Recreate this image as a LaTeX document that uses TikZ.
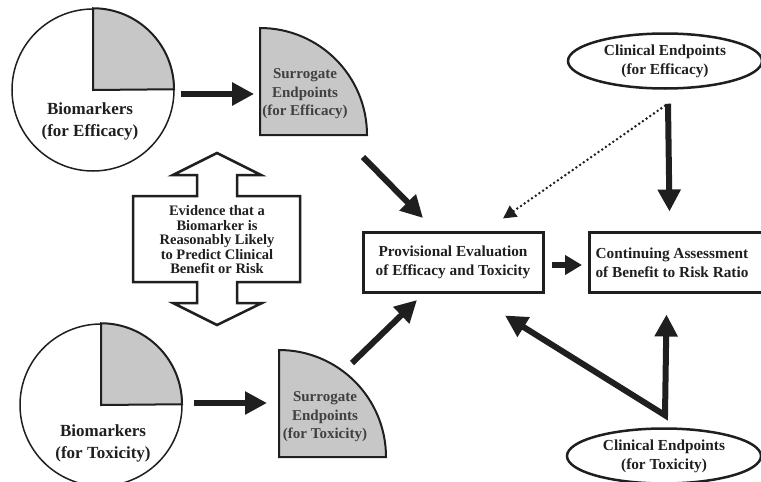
\documentclass[tikz,border=0pt]{standalone}
\usepackage{fontspec}
\setmainfont{Liberation Serif}
\usetikzlibrary{arrows.meta,shapes.geometric,calc}
\definecolor{qgray}{gray}{0.78}
\definecolor{ink}{gray}{0.12}
\begin{document}
\begin{tikzpicture}[x=1pt,y=-1pt,
  lbl/.style={font=\bfseries\fontsize{15.3}{19}\selectfont, align=center, inner sep=0pt, text=ink},
  biglbl/.style={font=\bfseries\fontsize{17}{22}\selectfont, align=center, inner sep=0pt, text=ink},
  evlbl/.style={font=\bfseries\fontsize{14.5}{14.5}\selectfont, align=center, inner sep=0pt, text=ink},
  surlbl/.style={font=\bfseries\fontsize{15}{18.5}\selectfont, align=center, inner sep=0pt, text=black!75},
  disc/.style={circle, draw=ink, line width=1.5pt, minimum size=162pt, inner sep=0pt},
  quad/.style={fill=qgray, draw=ink, line width=2pt, line join=miter},
  boxnode/.style={draw=ink, line width=3pt, minimum width=180pt, minimum height=60pt, inner sep=0pt},
  oval/.style={ellipse, draw=ink, line width=2.5pt, minimum width=194pt, minimum height=55pt, inner sep=0pt},
  fat/.style={draw=ink, line width=6pt, -{Triangle[length=22pt,width=22pt]}},
  dotarrow/.style={draw=ink, line width=2.8pt, line cap=round, dash pattern=on 0pt off 4.5pt, -{Triangle[length=13pt,width=13pt]}}
]
\useasboundingbox (0,0) rectangle (761,482);

% Biomarkers (efficacy)
\node[disc] (bioE) at (93,90) {};
\filldraw[quad] (bioE.center) -- (bioE.north) arc[start angle=-90,end angle=0,radius=81] -- cycle;
\node[biglbl] (bioEt) at (90,121) {Biomarkers\\(for Efficacy)};

% Biomarkers (toxicity)
\node[disc] (bioT) at (101,405) {};
\filldraw[quad] (bioT.center) -- (bioT.north) arc[start angle=-90,end angle=0,radius=81] -- cycle;
\node[biglbl] (bioTt) at (103,443) {Biomarkers\\(for Toxicity)};

% Surrogate endpoints
\filldraw[quad] (260,135) -- (260,28) arc[start angle=-90,end angle=0,radius=107] -- cycle;
\node[surlbl] (surE) at (305,94) {Surrogate\\Endpoints\\(for Efficacy)};
\filldraw[quad] (279,457) -- (279,350) arc[start angle=-90,end angle=0,radius=107] -- cycle;
\node[surlbl] (surT) at (325,417) {Surrogate\\Endpoints\\(for Toxicity)};

% Evidence double arrow
\filldraw[fill=white, draw=ink, line width=2.5pt, line join=miter]
  (217,153) -- (261,175) -- (237,175) -- (237,196) -- (300,196) -- (300,282)
  -- (237,282) -- (237,303) -- (262,303) -- (217,325) -- (173,303) -- (197,303)
  -- (197,282) -- (133,282) -- (133,196) -- (197,196) -- (197,175) -- (173,175) -- cycle;
\node[evlbl] (evid) at (217,240) {Evidence that a\\Biomarker is\\Reasonably Likely\\to Predict Clinical\\Benefit or Risk};

% Boxes
\node[boxnode, lbl] (prov) at (453,262) {Provisional Evaluation\\of Efficacy and Toxicity};
\node[boxnode, minimum width=182pt, anchor=west] (cont) at (588,262) {};
\node[lbl] (contt) at (672,263) {Continuing Assessment\\of Benefit to Risk Ratio};

% Clinical endpoints
\node[oval, lbl] (ceff) at (665,61) {Clinical Endpoints\\(for Efficacy)};
\node[oval, lbl] (ctox) at (664,456) {Clinical Endpoints\\(for Toxicity)};

% Connector anchor points
\coordinate (a1s) at ($(bioE.east)+(6,4)$);
\coordinate (a1e) at ($(surE.west)+(-8,0)$);
\coordinate (a2s) at ($(bioT.east)+(11,-2)$);
\coordinate (a2e) at (267,403);
\coordinate (a3s) at (363,157);
\coordinate (a3e) at (423,218);
\coordinate (a4s) at (352,363);
\coordinate (a4e) at (417,300);
\coordinate (ceffb) at ($(ceff.south)+(3,14)$);
\coordinate (v) at ($(ctox.north)+(1,-12)$);

% Arrows
\draw[fat] (a1s) -- (a1e);
\draw[fat] (a2s) -- (a2e);
\draw[fat] (a3s) -- (a3e);
\draw[fat] (a4s) -- (a4e);
\draw[fat, -{Triangle[length=17pt,width=19pt]}] ($(prov.east)+(7,3)$) -- ($(cont.west)+(-6,3)$);
\draw[fat] (ceffb) -- ($(cont.north)+(-11,-19)$);
\draw[dotarrow] ($(ceff.south)+(0,16)$) -- ($(prov.north)+(50,-12)$);
\draw[fat, line join=miter, {Triangle[length=22pt,width=22pt]}-{Triangle[length=22pt,width=22pt]}]
  ($(prov.south)+(52,22)$) -- (v) -- ($(cont.south)+(-14,21)$);
\end{tikzpicture}
\end{document}
